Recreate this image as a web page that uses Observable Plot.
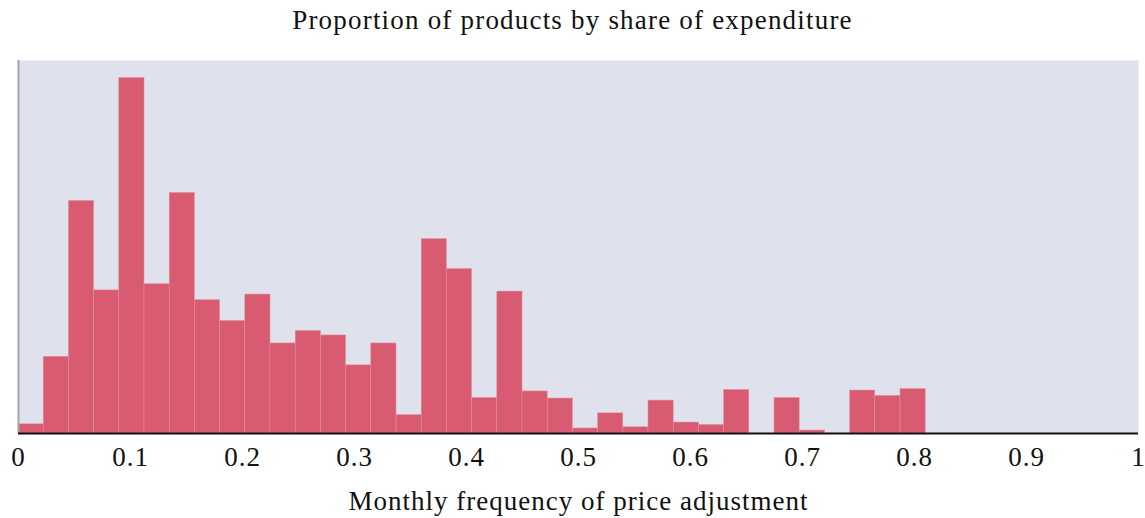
<!DOCTYPE html>
<html>
<head>
<meta charset="utf-8">
<script src="https://cdn.jsdelivr.net/npm/d3@7"></script>
<script src="https://cdn.jsdelivr.net/npm/@observablehq/plot@0.6"></script>
<style>
  html, body { margin: 0; padding: 0; background: #fff; }
  body { width: 1145px; height: 518px; overflow: hidden; font-family: "Liberation Serif", "DejaVu Serif", serif; }
  #title { height: 40px; line-height: 40px; text-align: center; font-size: 27px; letter-spacing: 1.2px; color: #111; }
  #chart svg text { letter-spacing: 1px; }
</style>
</head>
<body>
<div id="title">Proportion of products by share of expenditure</div>
<div id="chart"></div>
<script>
// Bin edges (monthly frequency of price adjustment)
const binStart = [0, 0.0225, 0.045, 0.0675, 0.09, 0.1125, 0.135, 0.1575, 0.18, 0.2025, 0.225, 0.2475,
  0.27, 0.2925, 0.315, 0.3375, 0.36, 0.3825, 0.405, 0.4275, 0.45, 0.4725, 0.495, 0.5175,
  0.54, 0.5625, 0.585, 0.6075, 0.63, 0.6525, 0.675, 0.6975, 0.72, 0.7425, 0.765, 0.7875];
const binEnd = [0.0225, 0.045, 0.0675, 0.09, 0.1125, 0.135, 0.1575, 0.18, 0.2025, 0.225, 0.2475, 0.27,
  0.2925, 0.315, 0.3375, 0.36, 0.3825, 0.405, 0.4275, 0.45, 0.4725, 0.495, 0.5175, 0.54,
  0.5625, 0.585, 0.6075, 0.63, 0.6525, 0.675, 0.6975, 0.72, 0.7425, 0.765, 0.7875, 0.81];
// Proportion of products (share of expenditure, %)
const share = [0.31, 2.59, 7.85, 4.83, 12.00, 5.04, 8.12, 4.50, 3.80, 4.69, 3.04, 3.46,
  3.31, 2.30, 3.04, 0.62, 6.56, 5.55, 1.20, 4.79, 1.42, 1.18, 0.17, 0.68,
  0.21, 1.11, 0.37, 0.29, 1.47, 0, 1.20, 0.10, 0, 1.45, 1.27, 1.50];
const xTicks = [0, 0.1, 0.2, 0.3, 0.4, 0.5, 0.6, 0.7, 0.8, 0.9, 1];

const data = binStart.map((s, i) => ({x1: s, x2: binEnd[i], y: share[i]}));

const chart = Plot.plot({
  width: 1145,
  height: 478,
  marginLeft: 18,
  marginRight: 7,
  marginTop: 20,
  marginBottom: 85,
  style: {fontFamily: "'Liberation Serif', 'DejaVu Serif', serif", fontSize: "27px", color: "#111", background: "#fff"},
  x: {domain: [0, 1], ticks: xTicks, tickSize: 0, tickPadding: 13, tickFormat: d3.format("~g"),
      label: "Monthly frequency of price adjustment", labelAnchor: "center", labelOffset: 76, labelArrow: "none"},
  y: {domain: [0, 12.59], axis: null},
  marks: [
    Plot.frame({fill: "#dfe1ec", stroke: null}),
    Plot.rectY(data, {x1: "x1", x2: "x2", y: "y", fill: "#d95b71", stroke: "#e3909f", strokeWidth: 0.5, inset: 0}),
    Plot.ruleX([0], {stroke: "#a3a3ab", strokeWidth: 2}),
    Plot.ruleY([0], {stroke: "#111", strokeWidth: 2})
  ]
});
document.getElementById("chart").appendChild(chart);
</script>
</body>
</html>
